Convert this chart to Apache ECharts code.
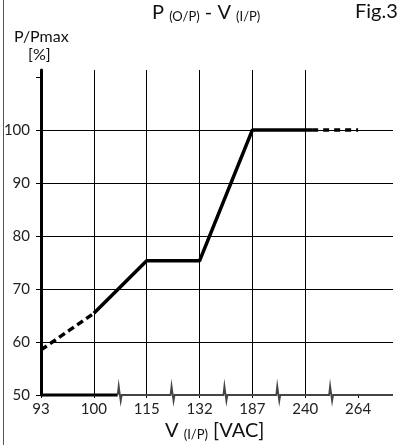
<!DOCTYPE html>
<html>
<head>
<meta charset="utf-8">
<script src="https://cdn.jsdelivr.net/npm/echarts@6/dist/echarts.min.js"></script>
<style>
html,body{margin:0;padding:0;background:#fff;}
#chart{width:408px;height:445px;}
</style>
</head>
<body>
<div id="chart"></div>
<script>
// Categories on the (evenly spaced) voltage axis
const vCats = ['93', '100', '115', '132', '187', '240', '264'];
// Output power ratio [%] at each voltage category
const pPct = [58.5, 65.4, 75.3, 75.3, 100, 100, 100];
// Y tick values / labelled values
const yTicks = [50, 60, 70, 80, 90, 100, 110];
const yLabelled = [50, 60, 70, 80, 90, 100];
// Where the solid part of the curve ends (axis index units) before the dashed tail
const solidEnd = 5.13;
// Positions of the axis-break zigzags (axis index units)
const breakAt = [1.47, 2.47, 3.47, 4.47, 5.47];

const FONT = 'Lato';
const idx = vCats.map((_, i) => i);

const lowDashed = [[0, pPct[0]], [1, pPct[1]]];
const solid = [];
for (let i = 1; i <= 5; i++) solid.push([i, pPct[i]]);
solid.push([solidEnd, pPct[5]]);
const highDashed = [[solidEnd, pPct[5]], [6, pPct[6]]];

const chart = echarts.init(document.getElementById('chart'), null, {renderer: 'canvas'});

const option = {
  animation: false,
  backgroundColor: '#fff',
  grid: {left: 41, right: 15, top: 70, bottom: 50, containLabel: false},
  xAxis: {
    type: 'value', min: 0, max: 6.66, interval: 1,
    axisLine: {show: false},
    axisTick: {show: true, length: 3, customValues: idx, lineStyle: {color: '#000', width: 1}},
    axisLabel: {
      customValues: idx, margin: 7,
      formatter: v => vCats[Math.round(v)],
      color: '#222', fontSize: 15, fontFamily: FONT
    },
    splitLine: {show: true, showMinLine: false, showMaxLine: false, lineStyle: {color: '#000', width: 1}}
  },
  yAxis: {
    type: 'value', min: 50, max: 111.3, interval: 10,
    axisLine: {show: true, lineStyle: {color: '#000', width: 3}},
    axisTick: {show: true, length: 5, customValues: yTicks, lineStyle: {color: '#000', width: 1}},
    axisLabel: {customValues: yLabelled, margin: 11, color: '#222', fontSize: 15, fontFamily: FONT},
    splitLine: {show: true, showMinLine: false, showMaxLine: false, lineStyle: {color: '#000', width: 1}}
  },
  series: [
    {type: 'line', data: lowDashed, symbol: 'none', lineStyle: {color: '#000', width: 3.5, type: [7, 4]}, z: 5},
    {type: 'line', data: solid, symbol: 'none', lineStyle: {color: '#000', width: 3.5}, z: 5},
    {type: 'line', data: highDashed, symbol: 'none', lineStyle: {color: '#000', width: 3.5, type: [6, 5]}, z: 5}
  ]
};
chart.setOption(option);

// Bottom axis line with break marks, placed through the axis scales
const y0 = chart.convertToPixel({gridIndex: 0}, [0, 50])[1];
const xStart = chart.convertToPixel({gridIndex: 0}, [0, 50])[0];
const xEnd = chart.convertToPixel({gridIndex: 0}, [6.66, 50])[0];
const bx = breakAt.map(b => chart.convertToPixel({gridIndex: 0}, [b, 50])[0]);

const graphics = [];
// thick first segment
graphics.push({type: 'line', shape: {x1: xStart, y1: y0, x2: bx[0] - 1, y2: y0}, style: {stroke: '#000', lineWidth: 3}, z: 10});
// thin remaining line with zigzags
const pts = [[bx[0] - 1, y0]];
bx.forEach(x => {
  pts.push([x - 1, y0]);
  pts.push([x, y0 - 9]);
  pts.push([x + 2, y0 + 6]);
  pts.push([x + 3, y0]);
});
pts.push([xEnd, y0]);
graphics.push({type: 'polyline', shape: {points: pts}, style: {stroke: '#444', lineWidth: 1.8, fill: null}, z: 10});
// left border of the figure frame
graphics.push({type: 'line', shape: {x1: 3.5, y1: 0, x2: 3.5, y2: 445}, style: {stroke: '#555', lineWidth: 1}, z: 10});
// Title
graphics.push({type: 'text', x: 152, y: 3, style: {
  text: '{a|P }{b|(O/P)}{a| - V }{b|(I/P)}',
  rich: {a: {fontSize: 20, fontFamily: FONT, fill: '#111', verticalAlign: 'bottom'},
         b: {fontSize: 13, fontFamily: FONT, fill: '#111', verticalAlign: 'bottom'}}
}, z: 10});
graphics.push({type: 'text', x: 355, y: 2, style: {text: 'Fig.3', fontSize: 20, fontFamily: FONT, fill: '#111'}, z: 10});
graphics.push({type: 'text', x: 14, y: 29, style: {text: 'P/Pmax', fontSize: 16, fontFamily: FONT, fill: '#111'}, z: 10});
graphics.push({type: 'text', x: 28, y: 47, style: {text: '[%]', fontSize: 16, fontFamily: FONT, fill: '#111'}, z: 10});
// X axis name
graphics.push({type: 'text', x: 165, y: 421, style: {
  text: '{a|V }{b|(I/P)}{a| [VAC]}',
  rich: {a: {fontSize: 20, fontFamily: FONT, fill: '#111', verticalAlign: 'bottom'},
         b: {fontSize: 13, fontFamily: FONT, fill: '#111', verticalAlign: 'bottom'}}
}, z: 10});

chart.setOption({graphic: {elements: graphics}});
</script>
</body>
</html>
